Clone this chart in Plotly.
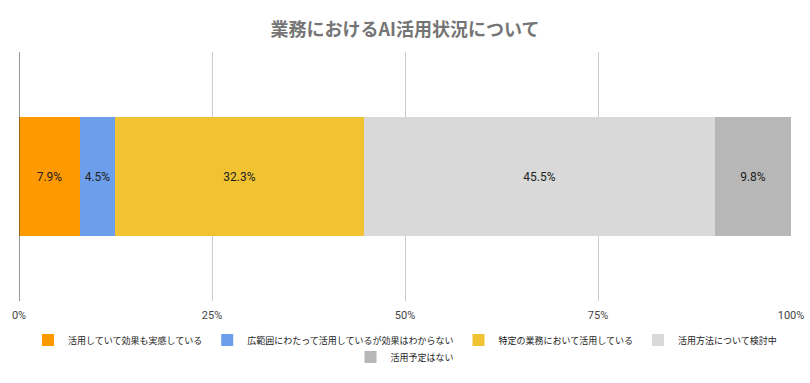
import plotly.graph_objects as go

categories = ["業務におけるAI活用状況"]
series_names = [
    "活用していて効果も実感している",
    "広範囲にわたって活用しているが効果はわからない",
    "特定の業務において活用している",
    "活用方法について検討中",
    "活用予定はない",
]
values = [7.9, 4.5, 32.3, 45.5, 9.8]
colors = ["#FF9900", "#6D9EEB", "#F1C232", "#D9D9D9", "#B7B7B7"]
legend_rows = ["legend", "legend", "legend", "legend", "legend2"]
tick_vals = [0, 25, 50, 75, 100]
tick_text = ["0%", "25%", "50%", "75%", "100%"]

fig = go.Figure()
for name, v, c, lg in zip(series_names, values, colors, legend_rows):
    fig.add_trace(go.Bar(
        y=categories, x=[v], name=name, orientation="h",
        marker=dict(color=c, line=dict(width=0)),
        text=[f"{v:.1f}%"], textposition="inside", insidetextanchor="middle",
        textfont=dict(color="#222222", size=12, family="Roboto, Arial, sans-serif"),
        width=0.474, legend=lg, hoverinfo="skip",
    ))

legend_common = dict(orientation="h", x=0.5, xanchor="center", xref="container",
                     yanchor="middle", yref="container",
                     font=dict(size=9, color="#222222", family="Noto Sans CJK JP"),
                     traceorder="normal", bgcolor="rgba(0,0,0,0)")

fig.update_layout(
    barmode="stack",
    width=810, height=383,
    margin=dict(l=19, r=19, t=52, b=82, autoexpand=False),
    paper_bgcolor="white", plot_bgcolor="white",
    title=dict(text="<b>業務におけるAI活用状況について</b>", x=0.5, xanchor="center",
               xref="paper", y=1 - 30 / 383, yanchor="middle", yref="container",
               automargin=False,
               font=dict(size=18, color="#757575", family="Noto Sans CJK JP")),
    font=dict(family="Noto Sans CJK JP, Roboto, sans-serif"),
    legend=dict(legend_common, y=1 - 340 / 383),
    legend2=dict(legend_common, y=1 - 357 / 383),
    xaxis=dict(range=[0, 100], tickvals=tick_vals, ticktext=tick_text,
               showgrid=True, gridcolor="#CCCCCC", gridwidth=1,
               zeroline=False, showline=False, automargin=False,
               ticklabelstandoff=6,
               tickfont=dict(size=11, color="#444444", family="Roboto, Arial, sans-serif")),
    yaxis=dict(showticklabels=False, showgrid=False, zeroline=False,
               range=[-0.5, 0.5], automargin=False),
    bargap=0,
    uniformtext=dict(minsize=8, mode="show"),
)
fig.add_shape(type="line", xref="x", yref="paper", x0=0, x1=0, y0=0, y1=1,
              line=dict(color="#333333", width=1))

fig.write_html("out.html", config={"displayModeBar": False},
               post_script="document.body.style.margin='0';document.body.style.overflow='hidden';")
